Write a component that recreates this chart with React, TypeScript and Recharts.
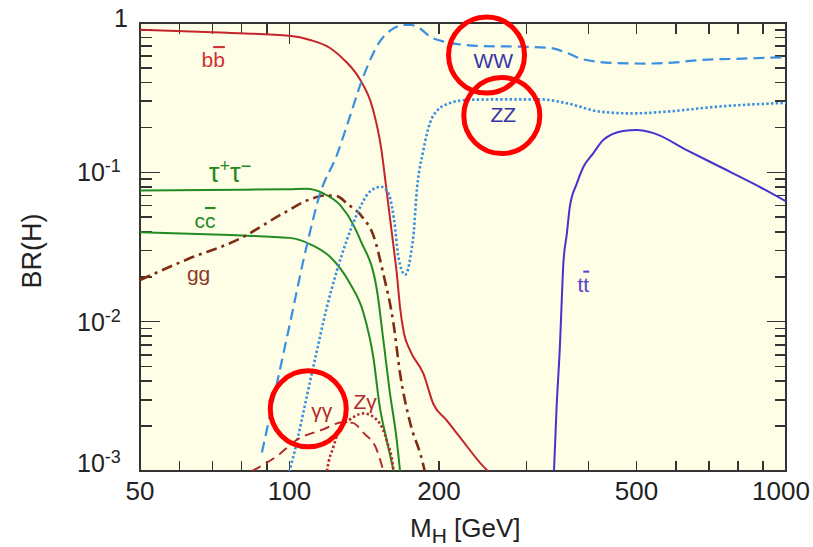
import {
  Customized,
  Line,
  LineChart,
  ReferenceDot,
  XAxis,
  YAxis,
} from "recharts"

// Higgs branching ratios vs M_H (log-log)
const bbMass = [50, 75, 100, 110, 120.7, 130, 138, 147, 153, 157, 162, 164.5, 167, 170, 175, 186, 195, 207, 220, 251, 262]
const bbBr = [0.9, 0.86, 0.82, 0.77, 0.68, 0.55, 0.43, 0.27, 0.145, 0.074, 0.032, 0.021, 0.0124, 0.0084, 0.0064, 0.0045, 0.0028, 0.0022, 0.0017, 0.001, 0.0009]

const tauMass = [50, 80, 100, 108, 117, 126.4, 134.5, 139, 150, 154.5, 159, 164.5, 167, 169]
const tauBr = [0.0755, 0.0765, 0.077, 0.0775, 0.0723, 0.0605, 0.0445, 0.035, 0.0163, 0.0076, 0.0035, 0.0016, 0.001, 0.0007]

const ccMass = [50, 76, 100, 111, 120.7, 132.4, 141, 147.5, 152, 157, 162, 164]
const ccBr = [0.0397, 0.038, 0.0364, 0.0326, 0.0272, 0.018, 0.0114, 0.0058, 0.0027, 0.0016, 0.001, 0.0008]

const ggMass = [50, 62, 79.5, 97, 110, 118, 125, 130.4, 141, 147.5, 154.5, 162, 167, 175, 185, 190]
const ggBr = [0.019, 0.026, 0.036, 0.053, 0.066, 0.07, 0.069, 0.062, 0.049, 0.038, 0.021, 0.0097, 0.0045, 0.0021, 0.00118, 0.0008]

const wwMass = [88, 100, 109, 115, 124.5, 132, 140, 152, 162, 169.5, 176, 183, 192, 205, 246, 287, 335, 362, 391, 450, 520, 600, 671, 783, 1000]
const wwBr = [0.00133, 0.0094, 0.0352, 0.0705, 0.13, 0.23, 0.415, 0.75, 0.92, 0.97, 0.97, 0.92, 0.81, 0.75, 0.7, 0.695, 0.68, 0.63, 0.57, 0.54, 0.535, 0.545, 0.565, 0.575, 0.59]

const zzMass = [98, 100, 111.7, 119, 130.4, 136.6, 145, 153, 158, 161, 163.4, 165, 167, 171, 174.3, 176, 178, 180, 186, 192, 199, 210, 227, 265, 320, 362, 422, 492, 575, 725, 1000]
const zzBr = [0.0008, 0.001, 0.005, 0.0126, 0.035, 0.052, 0.074, 0.08, 0.073, 0.058, 0.041, 0.03, 0.024, 0.0206, 0.0245, 0.03, 0.04, 0.068, 0.14, 0.215, 0.262, 0.29, 0.305, 0.308, 0.308, 0.29, 0.255, 0.248, 0.255, 0.275, 0.292]

const ttMass = [339, 341, 345, 350.7, 353.5, 356, 362, 367, 379, 391, 409, 429, 470, 500, 541, 631, 736, 860, 1000]
const ttBr = [0.0007, 0.001, 0.0026, 0.0072, 0.014, 0.024, 0.039, 0.059, 0.084, 0.109, 0.134, 0.165, 0.189, 0.192, 0.183, 0.141, 0.109, 0.084, 0.064]

const aaMass = [84, 95, 103, 117, 128, 134, 141, 150, 154.5, 157]
const aaBr = [0.001, 0.00128, 0.0016, 0.0019, 0.00212, 0.0021, 0.0018, 0.00138, 0.001, 0.0008]

const zaMass = [118, 119, 122.6, 126.4, 132, 141, 150, 157, 162, 163]
const zaBr = [0.0008, 0.001, 0.00145, 0.00195, 0.0022, 0.00243, 0.0022, 0.0016, 0.001, 0.0008]

const X_DOMAIN = [50, 1000]
const Y_DOMAIN = [0.001, 1]
const xTicks = [50, 60, 70, 80, 90, 100, 200, 300, 400, 500, 600, 700, 800, 900, 1000]
const xLabels = [50, 100, 200, 500, 1000]
const yTicks = [
  0.001, 0.002, 0.003, 0.004, 0.005, 0.006, 0.007, 0.008, 0.009,
  0.01, 0.02, 0.03, 0.04, 0.05, 0.06, 0.07, 0.08, 0.09,
  0.1, 0.2, 0.3, 0.4, 0.5, 0.6, 0.7, 0.8, 0.9, 1,
]
const yLabelValues = [1, 0.1, 0.01, 0.001]
const yLabelExps = ["", "-1", "-2", "-3"]

const W = 813
const H = 547
const MARGIN = { top: 23, right: 27, bottom: 16, left: 10 }
const Y_AXIS_W = 130
const X_AXIS_H = 60
const PLOT_X = MARGIN.left + Y_AXIS_W
const PLOT_Y = MARGIN.top
const PLOT_W = W - MARGIN.left - MARGIN.right - Y_AXIS_W
const PLOT_H = H - MARGIN.top - MARGIN.bottom - X_AXIS_H
const X_TICK_MARGIN = 29
const Y_TICK_MARGIN = 12
const TICK_W = 1.6

const AXIS = "#333"
const BG = "#fefde6"
const RED = "#c4252c"
const GREEN = "#238a23"
const BROWN = "#7d2e12"
const SKY = "#3a8fe0"
const PURPLE = "#4433cc"
const DARKRED = "#b32a2a"
const FONT = "'Liberation Sans', Arial, sans-serif"

const pts = (mass: number[], br: number[]) => mass.map((m, i) => ({ m, br: br[i] }))

// same log mapping as the axes, used only for the inward tick marks
const xPx = (v: number) => PLOT_X + (PLOT_W * Math.log(v / X_DOMAIN[0])) / Math.log(X_DOMAIN[1] / X_DOMAIN[0])
const yPx = (v: number) => PLOT_Y + (PLOT_H * Math.log(Y_DOMAIN[1] / v)) / Math.log(Y_DOMAIN[1] / Y_DOMAIN[0])

function XTick(props: any) {
  const { x, y, payload } = props
  const v = payload.value
  if (!xLabels.includes(v)) return <g />
  return (
    <text x={x + (v === 1000 ? -5 : 0)} y={y} textAnchor="middle" fontSize={26} fill="#222">
      {v}
    </text>
  )
}

function YTick(props: any) {
  const { x, y, payload } = props
  const v = payload.value
  const idx = yLabelValues.indexOf(v)
  if (idx < 0) return <g />
  const axisX = x + Y_TICK_MARGIN
  const shift = v === 1 ? 4 : v === 0.001 ? 1 : 9
  if (v === 1) {
    return <text x={axisX - 12} y={y + shift} textAnchor="end" fontSize={25} fill="#222">1</text>
  }
  return (
    <text x={axisX - 63} y={y + shift} fontSize={25} fill="#222">
      10<tspan dy={-9} fontSize={18}>{yLabelExps[idx]}</tspan>
    </text>
  )
}

// inward tick marks, drawn under the transparent svg
function TickMarks() {
  const bottom = PLOT_Y + PLOT_H
  const right = PLOT_X + PLOT_W
  const half = TICK_W / 2
  const mark = (key: string, left: number, top: number, width: number, height: number) => (
    <div key={key} style={{ position: "absolute", left, top, width, height, background: AXIS }} />
  )
  const marks: any[] = []
  xTicks.filter((v) => v !== 50 && v !== 1000).forEach((v) => {
    marks.push(mark(`xb${v}`, xPx(v) - half, bottom - 10, TICK_W, 10))
    marks.push(mark(`xt${v}`, xPx(v) - half, PLOT_Y, TICK_W, v === 100 ? 21 : 11))
  })
  yTicks.filter((v) => v !== 1 && v !== 0.001).forEach((v) => {
    const major = yLabelValues.includes(v)
    marks.push(mark(`yl${v}`, PLOT_X, yPx(v) - half, major ? 20 : 12, TICK_W))
    marks.push(mark(`yr${v}`, right - (major ? 19 : 11), yPx(v) - half, major ? 19 : 11, TICK_W))
  })
  return <>{marks}</>
}

function Frame() {
  return (
    <g>
      <rect x={PLOT_X} y={PLOT_Y} width={PLOT_W} height={PLOT_H} fill="none" stroke={AXIS} strokeWidth={2} />
      <g fill="#222">
        <text transform="translate(41, 251) rotate(-90)" textAnchor="middle" fontSize={27}>BR(H)</text>
        <text x={410} y={537} fontSize={26}>
          M<tspan dy={6} fontSize={21}>H</tspan>
          <tspan dy={-6}> [GeV]</tspan>
        </text>
      </g>
    </g>
  )
}

const labelAt = (content: (x: number, y: number) => any) => (p: any) => content(p.cx, p.cy)

export default function App() {
  return (
    <div style={{ position: "absolute", left: 0, top: 0, width: W, height: H, fontFamily: FONT, background: "#fff" }}>
      <div style={{ position: "absolute", left: PLOT_X, top: PLOT_Y, width: PLOT_W, height: PLOT_H, background: BG }} />
      <TickMarks />
      <div style={{ position: "absolute", left: 0, top: 0 }}>
        <LineChart width={W} height={H} margin={MARGIN}>
          <XAxis
            dataKey="m"
            type="number"
            scale="log"
            domain={X_DOMAIN}
            allowDataOverflow
            ticks={xTicks}
            interval={0}
            tickSize={0}
            tickMargin={X_TICK_MARGIN}
            height={X_AXIS_H}
            axisLine={false}
            tick={(p: any) => <XTick {...p} />}
          />
          <YAxis
            dataKey="br"
            type="number"
            scale="log"
            domain={Y_DOMAIN}
            allowDataOverflow
            ticks={yTicks}
            interval={0}
            tickSize={0}
            tickMargin={Y_TICK_MARGIN}
            width={Y_AXIS_W}
            axisLine={false}
            tick={(p: any) => <YTick {...p} />}
          />

          <Line data={pts(bbMass, bbBr)} dataKey="br" type="monotone" stroke={RED} strokeWidth={2} dot={false} isAnimationActive={false} />
          <Line data={pts(tauMass, tauBr)} dataKey="br" type="monotone" stroke={GREEN} strokeWidth={2} dot={false} isAnimationActive={false} />
          <Line data={pts(ccMass, ccBr)} dataKey="br" type="monotone" stroke={GREEN} strokeWidth={2} dot={false} isAnimationActive={false} />
          <Line data={pts(ggMass, ggBr)} dataKey="br" type="monotone" stroke={BROWN} strokeWidth={2.6} strokeDasharray="11 5 3 5" dot={false} isAnimationActive={false} />
          <Line data={pts(wwMass, wwBr)} dataKey="br" type="monotone" stroke={SKY} strokeWidth={2.2} strokeDasharray="11 6" dot={false} isAnimationActive={false} />
          <Line data={pts(zzMass, zzBr)} dataKey="br" type="monotone" stroke={SKY} strokeWidth={2.6} strokeDasharray="2.4 2.3" dot={false} isAnimationActive={false} />
          <Line data={pts(ttMass, ttBr)} dataKey="br" type="monotone" stroke={PURPLE} strokeWidth={2} dot={false} isAnimationActive={false} />
          <Line data={pts(aaMass, aaBr)} dataKey="br" type="monotone" stroke={DARKRED} strokeWidth={2} strokeDasharray="10 6" dot={false} isAnimationActive={false} />
          <Line data={pts(zaMass, zaBr)} dataKey="br" type="monotone" stroke={DARKRED} strokeWidth={2.6} strokeDasharray="2.4 2.4" dot={false} isAnimationActive={false} />

          <ReferenceDot x={70.2} y={0.507} r={0} shape={labelAt((x, y) => (
            <text x={x} y={y} textAnchor="middle" fontSize={21} fill="#d03030">b<tspan style={{ textDecoration: "overline" }}>b</tspan></text>
          ))} />
          <ReferenceDot x={75.9} y={0.0861} r={0} shape={labelAt((x, y) => (
            <text x={x} y={y} textAnchor="middle" fontSize={27} fill={GREEN}>
              τ<tspan dy={-10} fontSize={18}>+</tspan><tspan dy={10}>τ</tspan><tspan dy={-10} fontSize={18}>−</tspan>
            </text>
          ))} />
          <ReferenceDot x={67.6} y={0.0424} r={0} shape={labelAt((x, y) => (
            <text x={x} y={y} textAnchor="middle" fontSize={21} fill={GREEN}>c<tspan style={{ textDecoration: "overline" }}>c</tspan></text>
          ))} />
          <ReferenceDot x={65.6} y={0.0187} r={0} shape={labelAt((x, y) => (
            <text x={x} y={y} textAnchor="middle" fontSize={21} fill="#8b3a2a">gg</text>
          ))} />
          <ReferenceDot x={257.4} y={0.497} r={0} shape={labelAt((x, y) => (
            <text x={x} y={y} textAnchor="middle" fontSize={21} fill="#3535a8">WW</text>
          ))} />
          <ReferenceDot x={269.6} y={0.218} r={0} shape={labelAt((x, y) => (
            <text x={x} y={y} textAnchor="middle" fontSize={21} fill="#3535a8">ZZ</text>
          ))} />
          <ReferenceDot x={390.7} y={0.0159} r={0} shape={labelAt((x, y) => (
            <text x={x} y={y} textAnchor="middle" fontSize={21} fill="#5544cc">t<tspan style={{ textDecoration: "overline" }}>t</tspan></text>
          ))} />
          <ReferenceDot x={116.1} y={0.00226} r={0} shape={labelAt((x, y) => (
            <text x={x} y={y} textAnchor="middle" fontSize={21} fill={DARKRED}>γγ</text>
          ))} />
          <ReferenceDot x={142} y={0.00262} r={0} shape={labelAt((x, y) => (
            <text x={x} y={y} textAnchor="middle" fontSize={21} fill={DARKRED}>Zγ</text>
          ))} />

          <ReferenceDot x={249.4} y={0.61} r={38} fill="none" stroke="#ff0000" strokeWidth={5} />
          <ReferenceDot x={267.7} y={0.24} r={38} fill="none" stroke="#ff0000" strokeWidth={5} />
          <ReferenceDot x={109.1} y={0.00261} r={38} fill="none" stroke="#ff0000" strokeWidth={5} />

          <Customized component={<Frame />} />
        </LineChart>
      </div>
    </div>
  )
}
